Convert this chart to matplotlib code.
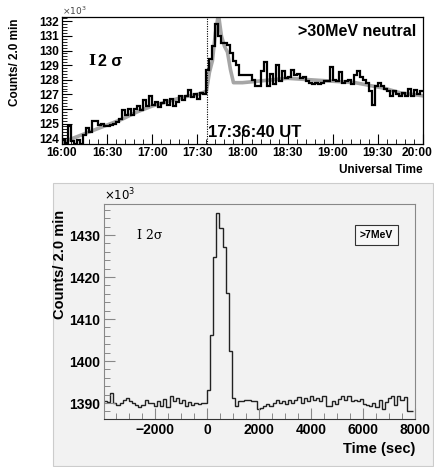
import numpy as np
import matplotlib
matplotlib.use("Agg")
from matplotlib import pyplot as plt
from matplotlib.ticker import MultipleLocator
from matplotlib.patches import Rectangle
from matplotlib.transforms import ScaledTranslation

plt.rcParams['font.family'] = ['Liberation Sans', 'DejaVu Sans']

# ---- top panel: >30MeV neutral, 2 min bins from 16:00 (minutes)
top_bin = 2
top_counts = [123.9, 123.7, 124.8, 123.8, 123.6, 123.9, 123.6, 124.2, 124.7, 124.4,
              125.2, 125.2, 124.9, 125.0, 124.8, 124.8, 124.9, 125.0, 125.1, 125.3,
              125.9, 125.6, 126.0, 125.6, 126.0, 126.2, 125.9, 126.6, 126.2, 126.9,
              126.3, 126.5, 126.1, 126.4, 126.6, 126.3, 126.7, 126.2, 126.5, 126.9,
              126.6, 126.9, 127.3, 126.8, 127.0, 126.7, 127.1, 127.0,
              128.7, 129.4, 130.3, 131.8, 131.0, 130.5, 130.5, 130.4, 129.8, 129.3,
              129.0, 128.3, 128.3, 128.3, 128.3, 128.0, 127.6, 127.6, 128.6, 129.2,
              127.6, 128.4, 127.7, 129.0, 127.9, 128.6, 128.1, 128.2, 128.7, 128.3,
              128.4, 128.1, 128.2, 127.9, 127.8, 127.7, 127.8, 127.7, 127.8, 127.9,
              127.9, 128.9, 128.0, 127.9, 128.5, 127.8, 127.9, 128.0, 127.7, 128.3,
              128.6, 128.2, 128.0, 127.8, 127.2, 126.3, 127.6, 127.8, 127.6, 127.4,
              127.2, 126.9, 127.2, 127.0, 126.9, 127.1, 126.9, 127.4, 126.9, 127.3,
              127.0, 127.2]
# background model (gray)
bg_min = [0, 10, 20, 30, 40, 50, 60, 70, 80, 90, 96, 98, 100, 102, 104, 106, 108,
          110, 112, 114, 120, 130, 150, 165, 180, 195, 205, 215, 225, 240]
bg_val = [123.7, 124.1, 124.5, 124.9, 125.3, 125.8, 126.2, 126.5, 126.8, 127.0, 127.2,
          128.5, 129.3, 131.2, 132.5, 131.0, 130.3, 129.9, 128.7, 127.8, 127.8, 127.9,
          128.1, 128.0, 127.9, 127.8, 127.6, 127.4, 127.1, 126.9]
top_ticks = [0, 30, 60, 90, 120, 150, 180, 210, 240]
top_ticklabels = ["16:00", "16:30", "17:00", "17:30", "18:00", "18:30", "19:00", "19:30", "20:00"]
onset_min = 96 + 40 / 60

# ---- bottom panel: >7MeV, 120 s bins
bot_bin = 120
bot_start = -3960
pre = [1390.4, 1390.2, 1392.4, 1389.9, 1389.6, 1390.0, 1390.8, 1391.3, 1390.6, 1390.0,
       1389.5, 1389.0, 1389.6, 1390.8, 1389.9, 1390.1, 1389.3, 1390.5, 1389.2, 1391.0,
       1389.1, 1391.6, 1390.4, 1391.1, 1389.9, 1390.8, 1389.4, 1390.3, 1389.5, 1390.0,
       1389.8, 1390.1, 1389.9]
peak = [1393.2, 1406.2, 1424.8, 1435.3, 1431.6, 1427.2, 1416.1, 1402.3, 1391.2]
post = [1389.4, 1390.4, 1390.6, 1390.8, 1390.8, 1390.6, 1390.4, 1388.6, 1388.9, 1389.2,
        1389.7, 1389.3, 1390.1, 1390.8, 1390.1, 1390.6, 1389.8, 1390.8, 1390.1, 1390.8,
        1391.4, 1390.0, 1391.2, 1390.4, 1391.6, 1390.8, 1391.2, 1390.4, 1391.6, 1389.2,
        1389.2, 1390.4, 1389.8, 1391.0, 1391.6, 1390.8, 1391.7, 1390.4, 1390.8, 1390.6,
        1391.0, 1389.8, 1389.6, 1389.2, 1390.0, 1389.0, 1390.8, 1388.6, 1390.2, 1391.2,
        1391.6, 1389.6, 1391.6, 1390.8, 1391.4, 1388.2, 1388.2]
bot_counts = pre + peak + post

fig = plt.figure(figsize=(4.35, 4.67), dpi=100)

# gray canvas behind the lower plot
fig.patches.append(Rectangle((0.1218, 0.002), 0.8736, 0.606, transform=fig.transFigure,
                             facecolor='#f2f2f2', edgecolor='#cccccc', lw=0.8, zorder=-5))

# ===== top =====
ax1 = fig.add_axes([0.1425, 0.6917, 0.8299, 0.2719])
ax1.plot(bg_min, bg_val, color='#a6a6a6', lw=2.6, zorder=2)
edges = np.arange(len(top_counts) + 1) * top_bin
ax1.stairs(top_counts, edges, color='black', lw=1.6, baseline=None, zorder=3)
ax1.axvline(onset_min, color='black', lw=0.8, ls=(0, (1, 1.2)), zorder=4)
ax1.set_xlim(0, 240)
ax1.set_ylim(123.6, 132.3)
ax1.set_xticks(top_ticks)
ax1.set_xticklabels(top_ticklabels)
ax1.xaxis.set_minor_locator(MultipleLocator(6))
ax1.yaxis.set_major_locator(MultipleLocator(1))
ax1.yaxis.set_minor_locator(MultipleLocator(0.2))
ax1.tick_params(which='both', direction='in', top=False, right=False, pad=2)
ax1.tick_params(which='major', length=7, width=0.8, labelsize=8.6)
ax1.tick_params(which='minor', length=3.5, width=0.6)
for lab in ax1.get_xticklabels() + ax1.get_yticklabels():
    lab.set_fontweight('bold')
# keep the last time label inside the picture
last = ax1.get_xticklabels()[-1]
last.set_transform(last.get_transform() + ScaledTranslation(-4 / 72, 0, fig.dpi_scale_trans))
for s in ax1.spines.values():
    s.set_linewidth(0.9)
ax1.set_ylabel("Counts/ 2.0 min", fontsize=8.5, fontweight='bold')
ax1.yaxis.set_label_coords(-0.113, 0.64)
ax1.text(1.0, -0.16, "Universal Time", transform=ax1.transAxes, ha='right', va='top',
         fontsize=8.5, fontweight='bold')
ax1.text(0.0, 1.0, r"$\times10^3$", transform=ax1.transAxes, ha='left', va='bottom',
         fontsize=6.5, color='#444444')
ax1.text(0.98, 0.885, ">30MeV neutral", transform=ax1.transAxes, ha='right', va='center',
         fontsize=11.5, fontweight='bold')
ax1.text(onset_min + 0.5, 0.09, "17:36:40 UT", transform=ax1.get_xaxis_transform(),
         ha='left', va='center', fontsize=12, fontweight='bold')
ax1.text(0.073, 0.65, "I", transform=ax1.transAxes, ha='left', va='center',
         fontsize=11, fontweight='bold', family='DejaVu Serif')
ax1.text(0.1, 0.65, "2 σ", transform=ax1.transAxes, ha='left', va='center',
         fontsize=11.5, fontweight='bold')

# ===== bottom =====
ax2 = fig.add_axes([0.2391, 0.1028, 0.7149, 0.4604])
ax2.set_facecolor('#f2f2f2')
bedges = bot_start + np.arange(len(bot_counts) + 1) * bot_bin
ax2.stairs(bot_counts, bedges, color='#222222', lw=1.0, baseline=None)
ax2.set_xlim(-3960, 8000)
ax2.set_ylim(1386.2, 1437.4)
ax2.xaxis.set_major_locator(MultipleLocator(2000))
ax2.xaxis.set_minor_locator(MultipleLocator(500))
ax2.yaxis.set_major_locator(MultipleLocator(10))
ax2.yaxis.set_minor_locator(MultipleLocator(2))
ax2.tick_params(which='both', direction='in', top=False, right=False, color='#888888', pad=3)
ax2.tick_params(which='major', length=8, width=0.8, labelsize=10)
ax2.tick_params(which='minor', length=4, width=0.7)
for lab in ax2.get_xticklabels() + ax2.get_yticklabels():
    lab.set_fontweight('bold')
ax2.spines['bottom'].set_color('#333333')
for k in ['left', 'top', 'right']:
    ax2.spines[k].set_color('#888888')
ax2.set_ylabel("Counts/ 2.0 min", fontsize=10.5, fontweight='bold')
ax2.yaxis.set_label_coords(-0.12, 0.72)
ax2.text(1.0, -0.105, "Time (sec)", transform=ax2.transAxes, ha='right', va='top',
         fontsize=10.5, fontweight='bold')
ax2.text(0.0, 1.005, r"$\times10^3$", transform=ax2.transAxes, ha='left', va='bottom',
         fontsize=8.5)
ax2.text(0.105, 0.855, "I 2σ", transform=ax2.transAxes, ha='left', va='center',
         fontsize=9, family='DejaVu Serif')
ax2.text(0.93, 0.855, ">7MeV", transform=ax2.transAxes, ha='right', va='center',
         fontsize=7.5, fontweight='bold',
         bbox=dict(boxstyle='square,pad=0.5', facecolor='#f7f7f7', edgecolor='#333333', lw=0.8))

fig.savefig("out.png", dpi=100)
